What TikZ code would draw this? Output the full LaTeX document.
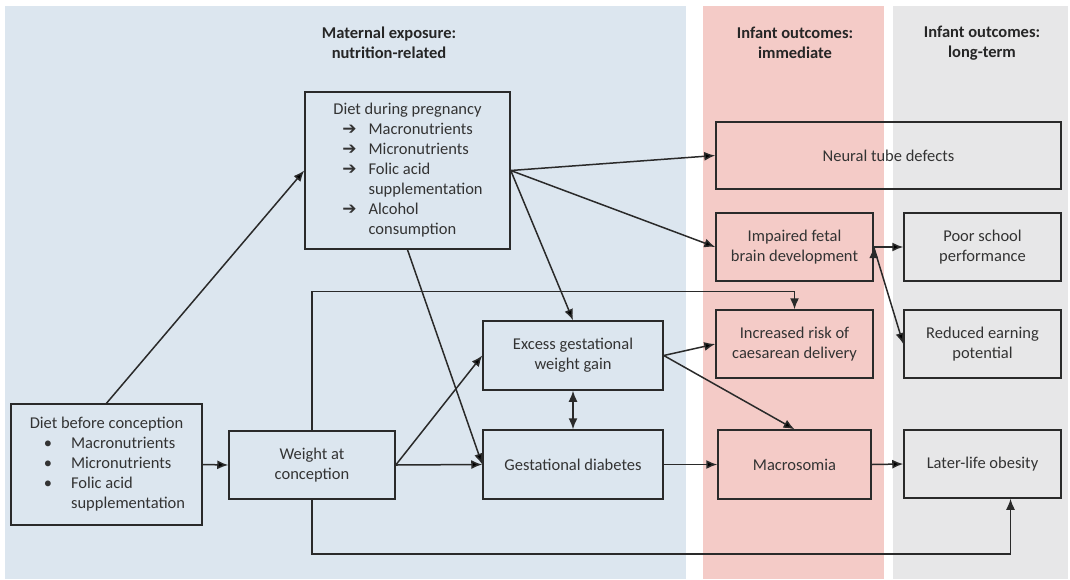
\documentclass[tikz,border=0pt]{standalone}
\usepackage{fontspec}
\setmainfont{Carlito}
\newfontfamily\arrowfont{DejaVu Sans}
\usetikzlibrary{arrows.meta,positioning}
\tikzset{>={Latex[length=11pt,width=9pt]}}
\definecolor{exposure}{HTML}{DCE6EF}
\definecolor{immediate}{HTML}{F4CBC7}
\definecolor{longterm}{HTML}{E7E7E8}
\definecolor{edgegrey}{HTML}{2A2A2A}
\definecolor{textgrey}{HTML}{333333}
\newcommand{\itemarrow}{{\arrowfont\bfseries\fontsize{17}{17}\selectfont ➔}}
\tikzset{
    box/.style={draw=edgegrey, line width=1.5pt, inner sep=0pt, align=center,
        text=textgrey, font=\fontsize{16.5}{20}\selectfont},
    heading/.style={align=center, text=black!85, font=\bfseries\fontsize{16.5}{20}\selectfont},
    link/.style={->, draw=edgegrey, line width=1.5pt}
}
\begin{document}
\begin{tikzpicture}[x=1pt,y=-1pt]
    \useasboundingbox (0,0) rectangle (1070,579);
    % column panels
    \fill[exposure] (5,6) rectangle (686,579);
    \fill[immediate] (703,6) rectangle (884,579);
    \fill[longterm] (893,6) rectangle (1068,579);
    \node[heading] at (389,43) (hexp) {Maternal exposure:\\nutrition-related};
    \node[heading] at (795,43) (himm) {Infant outcomes:\\immediate};
    \node[heading] at (982,43) (hlong) {Infant outcomes:\\long-term};

    % maternal exposure
    \node[box, minimum width=205pt, minimum height=157pt] at (407.5,170.5) (prenatal) {%
        \begin{tabular}{@{\hspace{10pt}}c@{\hspace{12pt}}l@{}}
        \multicolumn{2}{@{}c@{}}{Diet during pregnancy}\\
        \itemarrow & Macronutrients\\
        \itemarrow & Micronutrients\\
        \itemarrow & Folic acid\\
                   & supplementation\\
        \itemarrow & Alcohol\\
                   & consumption
        \end{tabular}};
    \node[box, minimum width=191pt, minimum height=121pt] at (106.5,464.5) (precon) {%
        \begin{tabular}{@{\hspace{16pt}}c@{\hspace{19pt}}l@{}}
        \multicolumn{2}{@{}c@{}}{Diet before conception}\\
        \textbullet & Macronutrients\\
        \textbullet & Micronutrients\\
        \textbullet & Folic acid\\
                    & supplementation
        \end{tabular}};
    \node[box, minimum width=166pt, minimum height=68pt] at (312,465) (weight) {Weight at\\conception};
    \node[box, minimum width=180pt, minimum height=69pt] at (573,355.5) (gwg) {Excess gestational\\weight gain};
    \node[box, minimum width=180pt, minimum height=69pt] at (573,464.5) (gdm) {Gestational diabetes};

    % infant outcomes, immediate
    \node[box, minimum width=345pt, minimum height=67pt] at (888.5,155.5) (ntd) {Neural tube defects};
    \node[box, minimum width=157pt, minimum height=68pt] at (794.5,247) (brain) {Impaired fetal\\brain development};
    \node[box, minimum width=157pt, minimum height=68pt] at (794.5,344) (csec) {Increased risk of\\caesarean delivery};
    \node[box, minimum width=153pt, minimum height=69pt] at (794.5,464.5) (macro) {Macrosomia};

    % infant outcomes, long-term
    \node[box, minimum width=157pt, minimum height=68pt] at (982.5,247) (school) {Poor school\\performance};
    \node[box, minimum width=157pt, minimum height=68pt] at (982.5,344) (earn) {Reduced earning\\potential};
    \node[box, minimum width=157pt, minimum height=68pt] at (982.5,464) (obesity) {Later-life obesity};

    \path[link]
    (precon.north) edge (prenatal.west)
    (precon.east) edge (weight.west)
    (weight.east) edge (gwg.west)
    (weight.east) edge (gdm.west)
    (prenatal.east) edge (ntd.west)
    (prenatal.east) edge (brain.west)
    (prenatal.east) edge (gwg.north)
    (prenatal.south) edge (gdm.west)
    (gwg.east) edge (csec.west)
    (gwg.east) edge (macro.north)
    (gdm.east) edge (macro.west)
    (macro.east) edge (obesity.west)
    (brain.east) edge (school.west)
    (brain.east) edge (earn.west)
    ;
    \draw[link, <->] (gwg.south) -- (gdm.north);
    % routed links around the boxes
    \draw[link] (weight.north) -- ++(0,-139) -| (csec.north);
    \draw[link] (weight.south) -- ++(0,54) -| ([xshift=28pt]obesity.south);
\end{tikzpicture}
\end{document}
